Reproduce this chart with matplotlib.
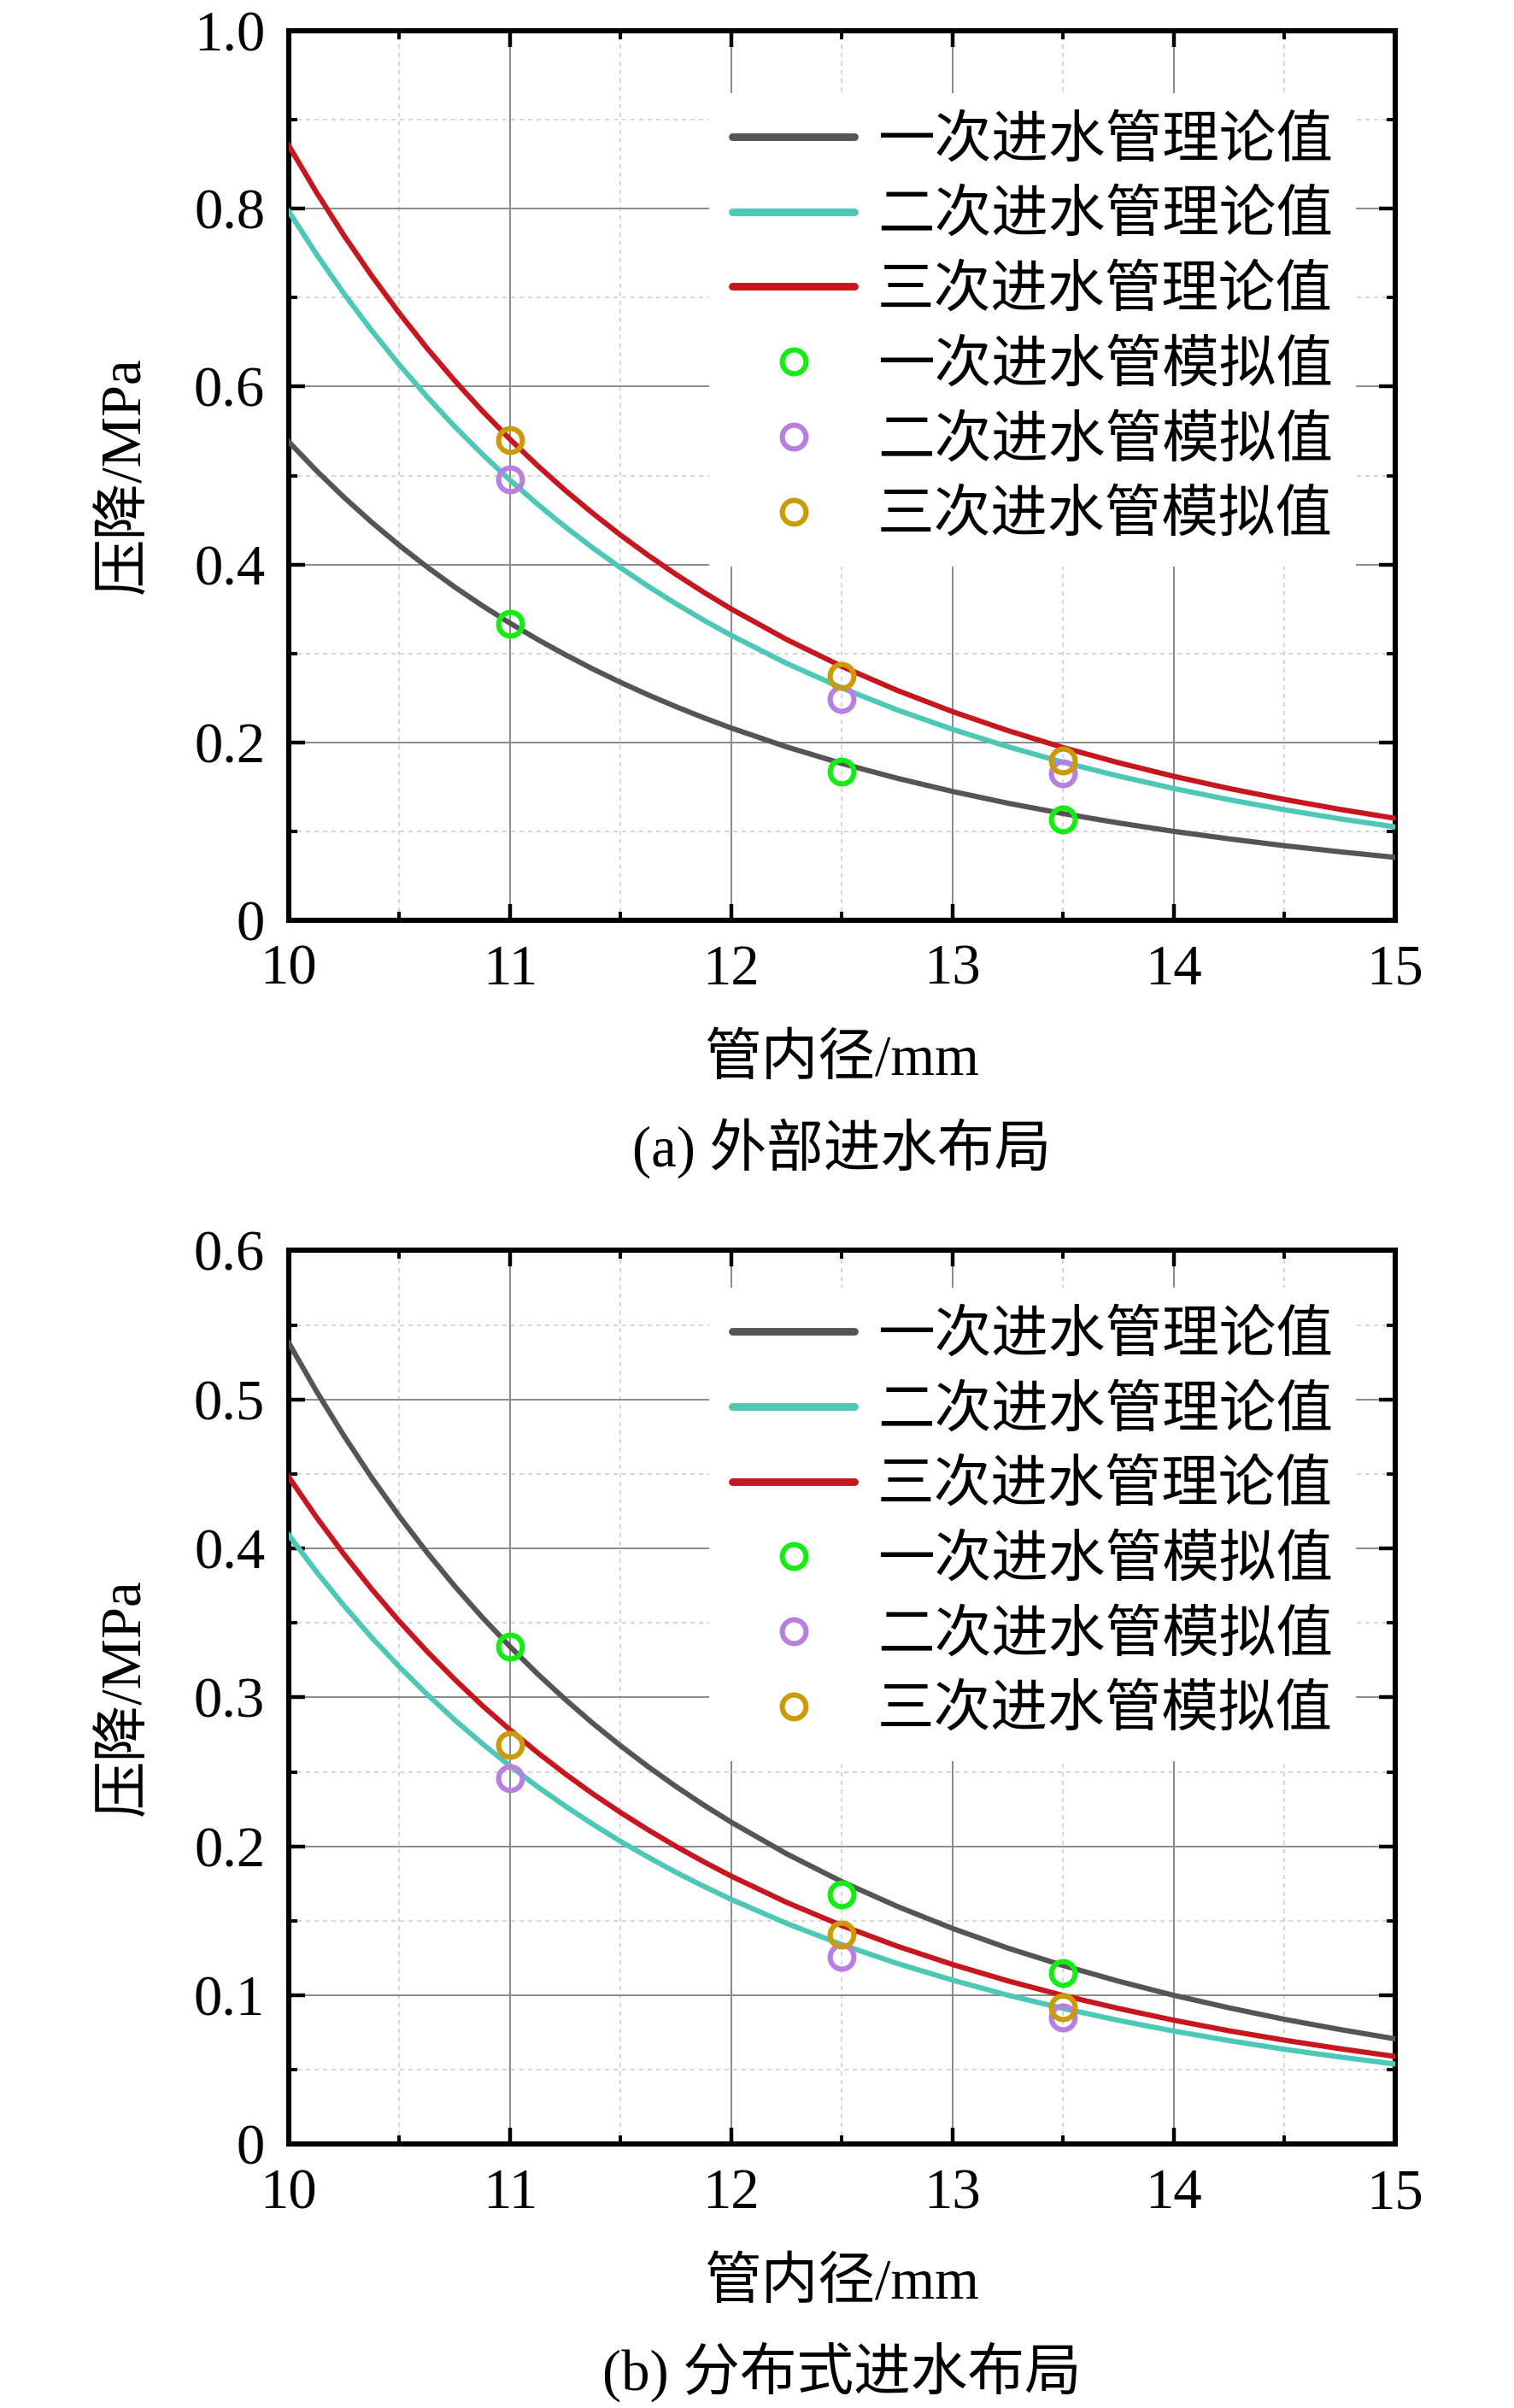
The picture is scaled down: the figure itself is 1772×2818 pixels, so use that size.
import matplotlib
matplotlib.use("Agg")
import matplotlib.pyplot as plt
from matplotlib.ticker import MultipleLocator

plt.rcParams["font.family"] = ["Liberation Serif", "Noto Sans CJK SC"]
plt.rcParams["font.size"] = 24
plt.rcParams["axes.unicode_minus"] = False

# pipe inner diameter (mm) sampled along the theoretical curves
diameter = [10.0, 10.125, 10.25, 10.375, 10.5, 10.625, 10.75, 10.875, 11.0, 11.125, 11.25,
            11.375, 11.5, 11.625, 11.75, 11.875, 12.0, 12.25, 12.5, 12.75, 13.0, 13.25,
            13.5, 13.75, 14.0, 14.25, 14.5, 14.75, 15.0]

# (a) external inlet layout - theoretical pressure drop (MPa)
a_first_theory = [0.538, 0.5056, 0.4755, 0.4475, 0.4215, 0.3973, 0.3747, 0.3537, 0.3341,
                  0.3157, 0.2986, 0.2825, 0.2675, 0.2534, 0.2402, 0.2278, 0.2162, 0.1950,
                  0.1763, 0.1597, 0.1449, 0.1317, 0.1200, 0.1095, 0.1000, 0.0916, 0.0839,
                  0.0771, 0.0708]
a_second_theory = [0.797, 0.7490, 0.7044, 0.6630, 0.6245, 0.5886, 0.5551, 0.5240, 0.4949,
                   0.4677, 0.4423, 0.4185, 0.3963, 0.3754, 0.3559, 0.3375, 0.3203, 0.2889,
                   0.2612, 0.2365, 0.2147, 0.1952, 0.1777, 0.1622, 0.1482, 0.1356, 0.1243,
                   0.1142, 0.1050]
a_third_theory = [0.871, 0.8185, 0.7698, 0.7246, 0.6825, 0.6432, 0.6067, 0.5726, 0.5408,
                  0.5111, 0.4833, 0.4574, 0.4330, 0.4103, 0.3889, 0.3689, 0.3500, 0.3157,
                  0.2854, 0.2585, 0.2346, 0.2133, 0.1942, 0.1772, 0.1619, 0.1482, 0.1359,
                  0.1248, 0.1147]

# (b) distributed inlet layout - theoretical pressure drop (MPa)
b_first_theory = a_first_theory
b_second_theory = [0.409, 0.3844, 0.3615, 0.3402, 0.3205, 0.3021, 0.2849, 0.2689, 0.2540,
                   0.2400, 0.2270, 0.2148, 0.2033, 0.1927, 0.1826, 0.1732, 0.1644, 0.1483,
                   0.1340, 0.1214, 0.1102, 0.1001, 0.0912, 0.0832, 0.0760, 0.0696, 0.0638,
                   0.0586, 0.0539]
b_third_theory = [0.448, 0.4210, 0.3960, 0.3727, 0.3510, 0.3309, 0.3121, 0.2945, 0.2782,
                  0.2629, 0.2486, 0.2352, 0.2227, 0.2110, 0.2000, 0.1897, 0.1800, 0.1624,
                  0.1468, 0.1330, 0.1207, 0.1097, 0.0999, 0.0912, 0.0833, 0.0762, 0.0699,
                  0.0642, 0.0590]

# simulated points
sim_diameter = [11.0, 12.5, 13.5]
a_first_sim = [0.333, 0.167, 0.113]
a_second_sim = [0.496, 0.249, 0.165]
a_third_sim = [0.540, 0.275, 0.180]
b_first_sim = [0.334, 0.168, 0.115]
b_second_sim = [0.246, 0.126, 0.085]
b_third_sim = [0.268, 0.141, 0.092]

theory_labels = ["一次进水管理论值", "二次进水管理论值", "三次进水管理论值"]
sim_labels = ["一次进水管模拟值", "二次进水管模拟值", "三次进水管模拟值"]
theory_colors = ["#555555", "#4EC8B6", "#C8161E"]
sim_colors = ["#11EE11", "#B77FE0", "#CC9A06"]

x_ticks = [10, 11, 12, 13, 14, 15]
x_ticklabels = ["10", "11", "12", "13", "14", "15"]
a_y_ticks = [0, 0.2, 0.4, 0.6, 0.8, 1.0]
a_y_ticklabels = ["0", "0.2", "0.4", "0.6", "0.8", "1.0"]
b_y_ticks = [0, 0.1, 0.2, 0.3, 0.4, 0.5, 0.6]
b_y_ticklabels = ["0", "0.1", "0.2", "0.3", "0.4", "0.5", "0.6"]

AX_LEFT = 0.1907
AX_WIDTH = 0.7308


def draw_panel(ax, theory, sim, y_ticks, y_ticklabels, y_minor, legend_top):
    for values, color, label in zip(theory, theory_colors, theory_labels):
        ax.plot(diameter, values, color=color, lw=2.2, label=label, zorder=3,
                solid_joinstyle="round")
    for values, color, label in zip(sim, sim_colors, sim_labels):
        ax.plot(sim_diameter, values, ls="none", marker="o", ms=10, mfc="none",
                mec=color, mew=2.2, label=label, zorder=4)

    ax.set_xlim(10, 15)
    ax.set_ylim(y_ticks[0], y_ticks[-1])
    ax.set_xticks(x_ticks)
    ax.set_xticklabels(x_ticklabels)
    ax.set_yticks(y_ticks)
    ax.set_yticklabels(y_ticklabels)
    ax.xaxis.set_minor_locator(MultipleLocator(0.5))
    ax.yaxis.set_minor_locator(MultipleLocator(y_minor))

    ax.grid(which="major", color="#8a8a8a", lw=0.7, ls="-", zorder=0)
    ax.grid(which="minor", color="#cfcfcf", lw=0.6, ls=(0, (3, 3)), zorder=0)
    ax.set_axisbelow(True)

    ax.tick_params(which="both", direction="in", top=True, right=True, labelsize=24)
    ax.tick_params(which="major", length=7, width=1.6, pad=10)
    ax.tick_params(which="minor", length=3.5, width=1.4)
    for spine in ax.spines.values():
        spine.set_linewidth(2.2)

    ax.set_xlabel("管内径/mm", fontsize=24, labelpad=16)
    ax.set_ylabel("压降/MPa", fontsize=24, labelpad=18)

    leg = ax.legend(loc="upper right", bbox_to_anchor=(0.99, legend_top), fontsize=24,
                    frameon=True, fancybox=False, framealpha=1, edgecolor="none",
                    handlelength=2.15, handletextpad=0.4, labelspacing=0.39,
                    borderpad=0.4)
    leg.get_frame().set_facecolor("white")
    for handle in leg.get_lines()[:3]:
        handle.set_linewidth(3.2)
        handle.set_solid_capstyle("round")


fig = plt.figure(figsize=(8.86, 14.09), dpi=200)
ax_a = fig.add_axes([AX_LEFT, 0.6178, AX_WIDTH, 0.3694])
ax_b = fig.add_axes([AX_LEFT, 0.1095, AX_WIDTH, 0.3712])

draw_panel(ax_a, [a_first_theory, a_second_theory, a_third_theory],
           [a_first_sim, a_second_sim, a_third_sim], a_y_ticks, a_y_ticklabels, 0.1, 0.962)
draw_panel(ax_b, [b_first_theory, b_second_theory, b_third_theory],
           [b_first_sim, b_second_sim, b_third_sim], b_y_ticks, b_y_ticklabels, 0.05, 0.99)

caption_x = AX_LEFT + AX_WIDTH / 2
fig.text(caption_x, 1 - 1344 / 2818, "(a) 外部进水布局", ha="center", va="center", fontsize=24)
fig.text(caption_x, 1 - 2776 / 2818, "(b) 分布式进水布局", ha="center", va="center", fontsize=24)

fig.savefig("out.png", dpi=200)
